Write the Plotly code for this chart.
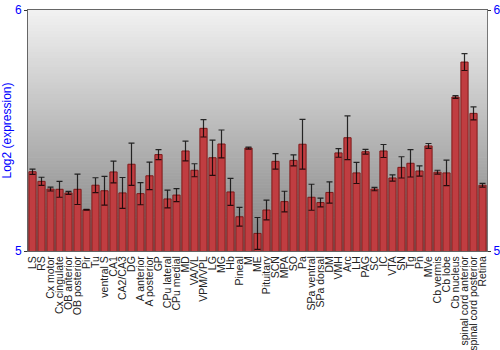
import plotly.graph_objects as go

regions = ["LS", "RS", "Cx motor", "Cx cingulate", "OB anterior", "OB posterior", "Pir", "Tu",
           "ventral S", "CA1", "CA2/CA3", "DG", "A anterior", "A posterior", "GP", "CPu lateral",
           "CPu medial", "MD", "VA/VL", "VPM/VPL", "LG", "MG", "Hb", "Pineal", "M", "ME",
           "Pituitary", "SCN", "MPA", "SO", "Pa", "SPa ventral", "SPa dorsal", "DM", "VMH", "Arc",
           "LH", "PAG", "SC", "IC", "VTA", "SN", "Tg", "Pn", "MVe", "Cb vermis", "Cb lobe",
           "Cb nucleus", "spinal cord anterior", "spinal cord posterior", "Retina"]

expression = [5.329, 5.289, 5.257, 5.256, 5.241, 5.256, 5.171, 5.273,
              5.250, 5.328, 5.241, 5.360, 5.238, 5.312, 5.400, 5.216,
              5.232, 5.415, 5.335, 5.509, 5.387, 5.444, 5.245, 5.142, 5.427, 5.073,
              5.170, 5.372, 5.205, 5.376, 5.443, 5.223, 5.201, 5.243, 5.407, 5.470,
              5.324, 5.412, 5.257, 5.415, 5.303, 5.347, 5.364, 5.332, 5.436, 5.327, 5.324,
              5.639, 5.784, 5.571, 5.273]

error = [0.011, 0.017, 0.008, 0.033, 0.006, 0.063, 0.002, 0.031,
         0.060, 0.045, 0.064, 0.088, 0.046, 0.057, 0.021, 0.037,
         0.027, 0.041, 0.027, 0.036, 0.073, 0.058, 0.056, 0.039, 0.004, 0.066,
         0.041, 0.032, 0.043, 0.023, 0.103, 0.054, 0.018, 0.044, 0.018, 0.091,
         0.044, 0.010, 0.007, 0.027, 0.013, 0.044, 0.057, 0.021, 0.010, 0.008, 0.053,
         0.006, 0.035, 0.027, 0.008]

y_range = [5, 6]
y_ticks = [5, 6]

fig = go.Figure()
fig.add_trace(go.Bar(
    x=regions, y=expression,
    error_y=dict(type="data", array=error, color="rgba(0,0,0,0.8)", thickness=1.2, width=3),
    marker=dict(color="#c03d41", line=dict(color="#7f1919", width=1)),
    width=0.8,
))
fig.add_trace(go.Scatter(x=regions, y=expression, yaxis="y2", mode="markers",
                         marker=dict(opacity=0), hoverinfo="skip", showlegend=False))

# vertical grey gradient background
n = 80
shapes = []
for i in range(n):
    g = int(round(128 + (242 - 128) * ((i + 0.5) / n)))
    shapes.append(dict(type="rect", xref="paper", yref="paper", x0=0, x1=1,
                       y0=i / n, y1=(i + 1) / n + 0.002, fillcolor=f"rgb({g},{g},{g})",
                       line=dict(width=0), layer="below"))

fig.update_layout(
    width=500, height=350,
    margin=dict(l=28, r=13, t=10, b=99),
    paper_bgcolor="white", plot_bgcolor="#c0c0c0",
    showlegend=False, bargap=0.2,
    shapes=shapes,
    font=dict(family="Liberation Sans, Arial, sans-serif", size=11, color="#222222"),
    xaxis=dict(tickangle=-90, tickfont=dict(size=10.5, color="#222222"), showgrid=False,
               tickmode="linear", dtick=1, automargin=False, range=[-0.5, len(regions) - 0.5],
               showline=True, linecolor="#666666", mirror=True, ticks="", ticklen=0),
    yaxis=dict(range=y_range, tickvals=y_ticks, showgrid=False, zeroline=False, automargin=False,
               tickfont=dict(size=12, color="#0000ff"), ticks="outside", ticklen=3,
               tickcolor="#333333", showline=True, linecolor="#666666",
               title=dict(text="Log2 (expression)", font=dict(size=12, color="#0000ff"), standoff=2)),
    yaxis2=dict(range=y_range, tickvals=y_ticks, overlaying="y", side="right", showgrid=False,
                automargin=False,
                zeroline=False, tickfont=dict(size=12, color="#0000ff"), ticks="outside",
                ticklen=3, tickcolor="#333333", showline=True, linecolor="#777777"),
)

fig.write_html("out.html")
